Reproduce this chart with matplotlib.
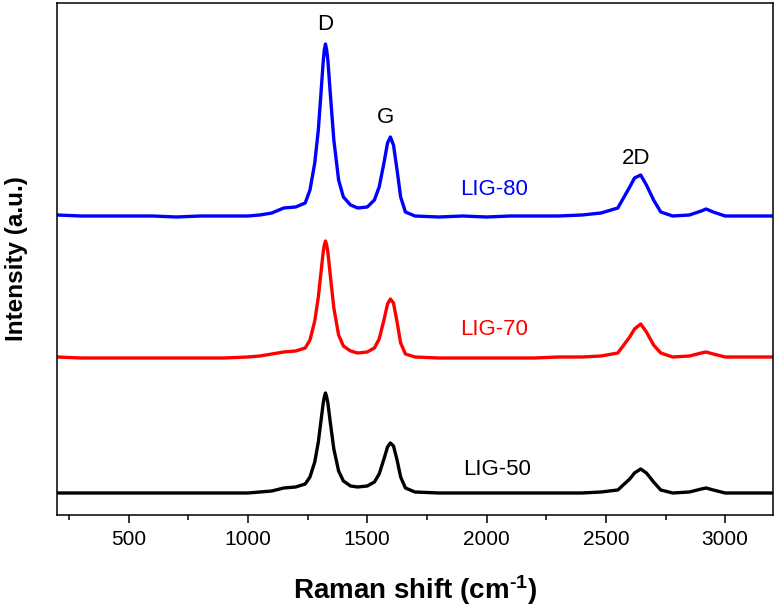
import matplotlib
matplotlib.use("Agg")
import matplotlib.pyplot as plt
from matplotlib.ticker import MultipleLocator

plt.rcParams['font.family'] = ['Liberation Sans', 'DejaVu Sans']
plt.rcParams['mathtext.fontset'] = 'custom'
plt.rcParams['mathtext.rm'] = 'Liberation Sans'
plt.rcParams['mathtext.bf'] = 'Liberation Sans:bold'
plt.rcParams['mathtext.default'] = 'bf'

# Raman shift (cm-1), shared by the three spectra
shift = [200, 300, 400, 500, 600, 700, 800, 900, 1000,
         1050, 1100, 1150, 1200,
         1240, 1260, 1280, 1295, 1305, 1315, 1320, 1325, 1330, 1335, 1345, 1360, 1380, 1400,
         1430, 1460, 1500, 1530, 1550, 1570, 1585, 1597, 1610, 1625, 1640, 1660, 1700,
         1800, 1900, 2000, 2100, 2200, 2300, 2400,
         2480, 2550, 2600, 2620, 2646, 2670, 2700, 2730, 2780,
         2850, 2900, 2920, 2950, 3000, 3100, 3200]

# intensities (a.u.), already stacked with offsets
lig80 = [300, 299, 299, 299, 299, 298, 299, 299, 299,
         300, 302, 307, 308,
         312, 325, 352, 385, 418, 452, 465, 471, 465, 455, 422, 375, 335, 318,
         310, 307, 308, 315, 328, 352, 372, 378, 370, 345, 318, 303, 299,
         298, 299, 298, 299, 299, 299, 300,
         302, 307, 328, 337, 340, 330, 315, 303, 299,
         300, 304, 306, 303, 299, 299, 299]

lig70 = [158, 157, 157, 157, 157, 157, 157, 157, 158,
         159, 161, 163, 164,
         167, 175, 194, 218, 240, 262, 270, 274, 270, 263, 240, 207, 180, 169,
         164, 162, 163, 167, 176, 195, 211, 216, 212, 193, 172, 161, 158,
         157, 157, 157, 157, 157, 158, 158,
         159, 162, 178, 186, 191, 183, 170, 162, 158,
         159, 162, 163, 161, 158, 158, 158]

lig50 = [22, 22, 22, 22, 22, 22, 22, 22, 22,
         23, 24, 27, 28,
         31, 38, 53, 73, 92, 111, 118, 122, 118, 112, 93, 66, 44, 34,
         29, 28, 29, 33, 41, 56, 68, 72, 69, 55, 38, 27, 23,
         22, 22, 22, 22, 22, 22, 22,
         23, 25, 36, 42, 46, 42, 33, 25, 22,
         23, 26, 27, 25, 22, 22, 22]

sample_names = ['LIG-80', 'LIG-70', 'LIG-50']
peak_names = ['D', 'G', '2D']

fig = plt.figure(figsize=(7.76, 6.12), dpi=100)
ax = fig.add_axes([0.0735, 0.1585, 0.9225, 0.8366])

line_kw = dict(lw=2.4, solid_joinstyle='round', solid_capstyle='round')
ax.plot(shift, lig80, color='#0000ff', **line_kw)
ax.plot(shift, lig70, color='#ff0000', **line_kw)
ax.plot(shift, lig50, color='black', **line_kw)

# sample labels
ax.text(2033, 325, sample_names[0], color='#0000ff', fontsize=16, ha='center', va='center')
ax.text(2033, 185, sample_names[1], color='#ff0000', fontsize=16, ha='center', va='center')
ax.text(2046, 45, sample_names[2], color='black', fontsize=16, ha='center', va='center')

# peak labels
ax.text(1324, 490, peak_names[0], fontsize=16, ha='center', va='center')
ax.text(1576, 397, peak_names[1], fontsize=16, ha='center', va='center')
ax.text(2625, 356, peak_names[2], fontsize=16, ha='center', va='center')

ax.set_xlim(200, 3200)
ax.set_ylim(0, 512)
ax.set_yticks([])
ax.xaxis.set_major_locator(MultipleLocator(500))
ax.xaxis.set_minor_locator(MultipleLocator(250))
ax.tick_params(axis='x', which='major', direction='out', length=6, width=1.1, labelsize=15, pad=5)
ax.tick_params(axis='x', which='minor', direction='out', length=3.5, width=1.1)
for sp in ax.spines.values():
    sp.set_linewidth(1.1)

ax.set_xlabel('Raman shift (cm$^{\u2010 1}$)', fontsize=20, fontweight='bold', labelpad=17)
ax.set_ylabel('Intensity (a.u.)', fontsize=17.5, fontweight='bold', labelpad=21)

fig.savefig('out.png', dpi=100)
